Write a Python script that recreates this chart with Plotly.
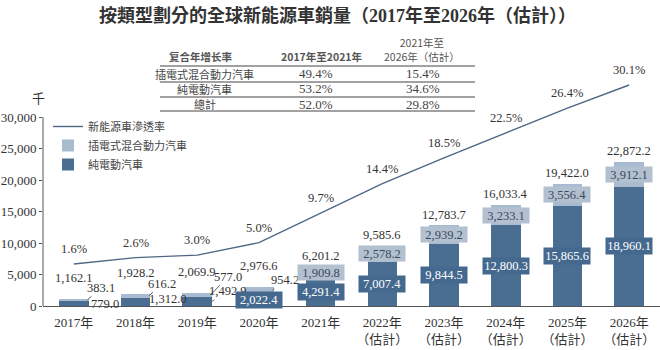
import plotly.graph_objects as go

# ---------------- data ----------------
years = ["2017年", "2018年", "2019年", "2020年", "2021年",
         "2022年", "2023年", "2024年", "2025年", "2026年"]
estimated = [False, False, False, False, False, True, True, True, True, True]
bev = [779.0, 1312.0, 1492.9, 2022.4, 4291.4, 7007.4, 9844.5, 12800.3, 15865.6, 18960.1]
phev = [383.1, 616.2, 577.0, 954.2, 1909.8, 2578.2, 2939.2, 3233.1, 3556.4, 3912.1]
total = [1162.1, 1928.2, 2069.9, 2976.6, 6201.2, 9585.6, 12783.7, 16033.4, 19422.0, 22872.2]
penetration = [1.6, 2.6, 3.0, 5.0, 9.7, 14.4, 18.5, 22.5, 26.4, 30.1]
y_ticks = [0, 5000, 10000, 15000, 20000, 25000, 30000]

series_names = ["新能源車滲透率", "插電式混合動力汽車", "純電動汽車"]
title_text = "按類型劃分的全球新能源車銷量（2017年至2026年（估計））"
unit_text = "千"
est_suffix = "（估計）"

cagr_header = ["复合年增长率", "2017年至2021年", "2021年至<br>2026年（估計）"]
cagr_labels = ["插電式混合動力汽車", "純電動汽車", "總計"]
cagr_2017_2021 = ["49.4%", "53.2%", "52.0%"]
cagr_2021_2026 = ["15.4%", "34.6%", "29.8%"]

# ---------------- style / geometry ----------------
W, H = 660, 350
L, R, T, B = 43, 0, 80, 44
PW, PH = W - L - R, H - T - B
C_BEV = "#4a6d92"
C_PHEV = "#a9bbd1"
C_LINE = "#4f6785"
C_TXT = "#333333"
SERIF = "Liberation Serif, Noto Sans CJK TC"
SANS_SC = "Noto Sans CJK SC"
SANS_TC = "Noto Sans CJK TC"
BAR_W = 0.48


def px(x):
    return (x - L) / PW


def py(y):
    return (H - B - y) / PH


def paper_text(text, x, y, font):
    return dict(text=text, x=px(x), y=py(y), xref="paper", yref="paper", showarrow=False,
                xanchor="center", yanchor="middle", font=font)


xlabels = [y + ("<br>" + est_suffix if e else "") for y, e in zip(years, estimated)]
idx = list(range(len(years)))

fig = go.Figure()
fig.add_trace(go.Bar(x=idx, y=bev, name=series_names[2], marker=dict(color=C_BEV, line=dict(width=0)),
                     width=BAR_W, legendrank=3, hoverinfo="skip"))
fig.add_trace(go.Bar(x=idx, y=phev, name=series_names[1], marker=dict(color=C_PHEV, line=dict(width=0)),
                     width=BAR_W, legendrank=2, hoverinfo="skip"))
fig.add_trace(go.Scatter(x=idx, y=penetration, name=series_names[0], yaxis="y2", mode="lines",
                         line=dict(color=C_LINE, width=1.4), legendrank=1, hoverinfo="skip"))

ann = []
shapes = []

# title
ann.append(paper_text("<b>" + title_text + "</b>", 337, 15, dict(family=SERIF, size=18, color=C_TXT)))
# unit
ann.append(paper_text(unit_text, 38, 97, dict(family=SANS_TC, size=13, color=C_TXT)))

# CAGR table
HDR = dict(family=SANS_TC, size=10.5, color="#555555")
ann.append(paper_text("<b>" + cagr_header[0] + "</b>", 201, 56, dict(family=SANS_SC, size=10.5, color="#555555")))
ann.append(paper_text("<b>" + cagr_header[1] + "</b>", 322, 56, HDR))
ann.append(paper_text(cagr_header[2], 422, 49.5, HDR))
row_y = [74, 89, 104]
for k in range(len(cagr_labels)):
    ann.append(paper_text(cagr_labels[k], 205, row_y[k], dict(family=SANS_TC, size=11, color="#444444")))
    ann.append(paper_text(cagr_2017_2021[k], 316, row_y[k], dict(family=SERIF, size=13, color="#444444")))
    ann.append(paper_text(cagr_2021_2026[k], 423, row_y[k], dict(family=SERIF, size=13, color="#444444")))
for ry in [66, 82, 97, 111]:
    shapes.append(dict(type="line", xref="paper", yref="paper", x0=px(160), x1=px(475),
                       y0=py(ry), y1=py(ry), line=dict(color="#444444", width=1)))

# y axis line (0 to 30,000)
shapes.append(dict(type="line", xref="paper", yref="y", x0=0, x1=0, y0=0, y1=y_ticks[-1],
                   line=dict(color="#555555", width=1)))

NUMFONT = dict(family=SERIF, size=12.5, color=C_TXT)

# penetration labels
for i, p in enumerate(penetration):
    ann.append(dict(text=f"{p:.1f}%", x=i, y=p, xref="x", yref="y2", showarrow=False,
                    xanchor="center", yanchor="middle", yshift=15, font=NUMFONT))

# total labels
for i, t in enumerate(total):
    ann.append(dict(text=f"{t:,.1f}", x=i, y=t, xref="x", yref="y", showarrow=False,
                    xanchor="center", yanchor="bottom", yshift=12 if i < 4 else 1.5, font=NUMFONT))

# outside labels with leader lines (early years)
phev_out = {0: (14, -12), 1: (13, -12), 2: (17, -18), 3: (12, -10)}
bev_out = {0: (16, 0), 1: (17.5, -3), 2: (16, -10)}
for i in range(len(years)):
    if i in phev_out:
        ax, ay = phev_out[i]
        ann.append(dict(text=f"{phev[i]:,.1f}", x=i + BAR_W / 2 - 0.02, y=bev[i] + phev[i] / 2,
                        xref="x", yref="y", showarrow=True, arrowhead=0, arrowwidth=0.8,
                        arrowcolor=C_TXT, ax=ax, ay=ay, standoff=0, font=NUMFONT))
    else:
        ann.append(dict(text=f"{phev[i]:,.1f}", x=i, y=bev[i] + phev[i] / 2, xref="x", yref="y",
                        showarrow=False, xanchor="center", yanchor="middle",
                        bgcolor="#b3c0d0", width=44, height=13,
                        font=dict(family=SERIF, size=12.5, color="#3a4a5c")))
    if i in bev_out:
        ax, ay = bev_out[i]
        ann.append(dict(text=f"{bev[i]:,.1f}", x=i + BAR_W / 2, y=bev[i] / 2,
                        xref="x", yref="y", showarrow=True, arrowhead=0, arrowwidth=0.8,
                        arrowcolor=C_TXT, ax=ax, ay=ay, standoff=0, font=NUMFONT))
    else:
        ann.append(dict(text=f"{bev[i]:,.1f}", x=i, y=bev[i] / 2, xref="x", yref="y",
                        showarrow=False, xanchor="center", yanchor="middle",
                        bgcolor="#45698e", width=44, height=14,
                        font=dict(family=SERIF, size=12.5, color="white")))

fig.update_layout(
    width=W, height=H, margin=dict(l=L, r=R, t=T, b=B),
    paper_bgcolor="white", plot_bgcolor="white",
    barmode="stack", bargap=0,
    showlegend=True,
    legend=dict(x=px(48), y=py(112), xanchor="left", yanchor="top", bgcolor="rgba(0,0,0,0)",
                font=dict(family=SANS_TC, size=11, color="#444444"), itemwidth=30,
                tracegroupgap=0, traceorder="normal"),
    xaxis=dict(range=[-0.5, len(years) - 0.5], tickmode="array", tickvals=idx, ticktext=xlabels,
               showline=True, linecolor="#555555", linewidth=1, showgrid=False, zeroline=False,
               ticks="", ticklabelstandoff=4,
               tickfont=dict(family=SERIF, size=13, color=C_TXT)),
    yaxis=dict(range=[0, PH / 0.0063], tickmode="array", tickvals=y_ticks,
               ticktext=[f"{v:,}" for v in y_ticks], showgrid=False, zeroline=False,
               showline=False, ticks="outside", ticklen=3, tickcolor="#555555",
               tickfont=dict(family=SERIF, size=13, color=C_TXT)),
    yaxis2=dict(range=[-(306 - 274) / 6.28, (274 - T) / 6.28], overlaying="y", side="right",
                visible=False),
    annotations=ann, shapes=shapes,
)

fig.write_html("out.html")
